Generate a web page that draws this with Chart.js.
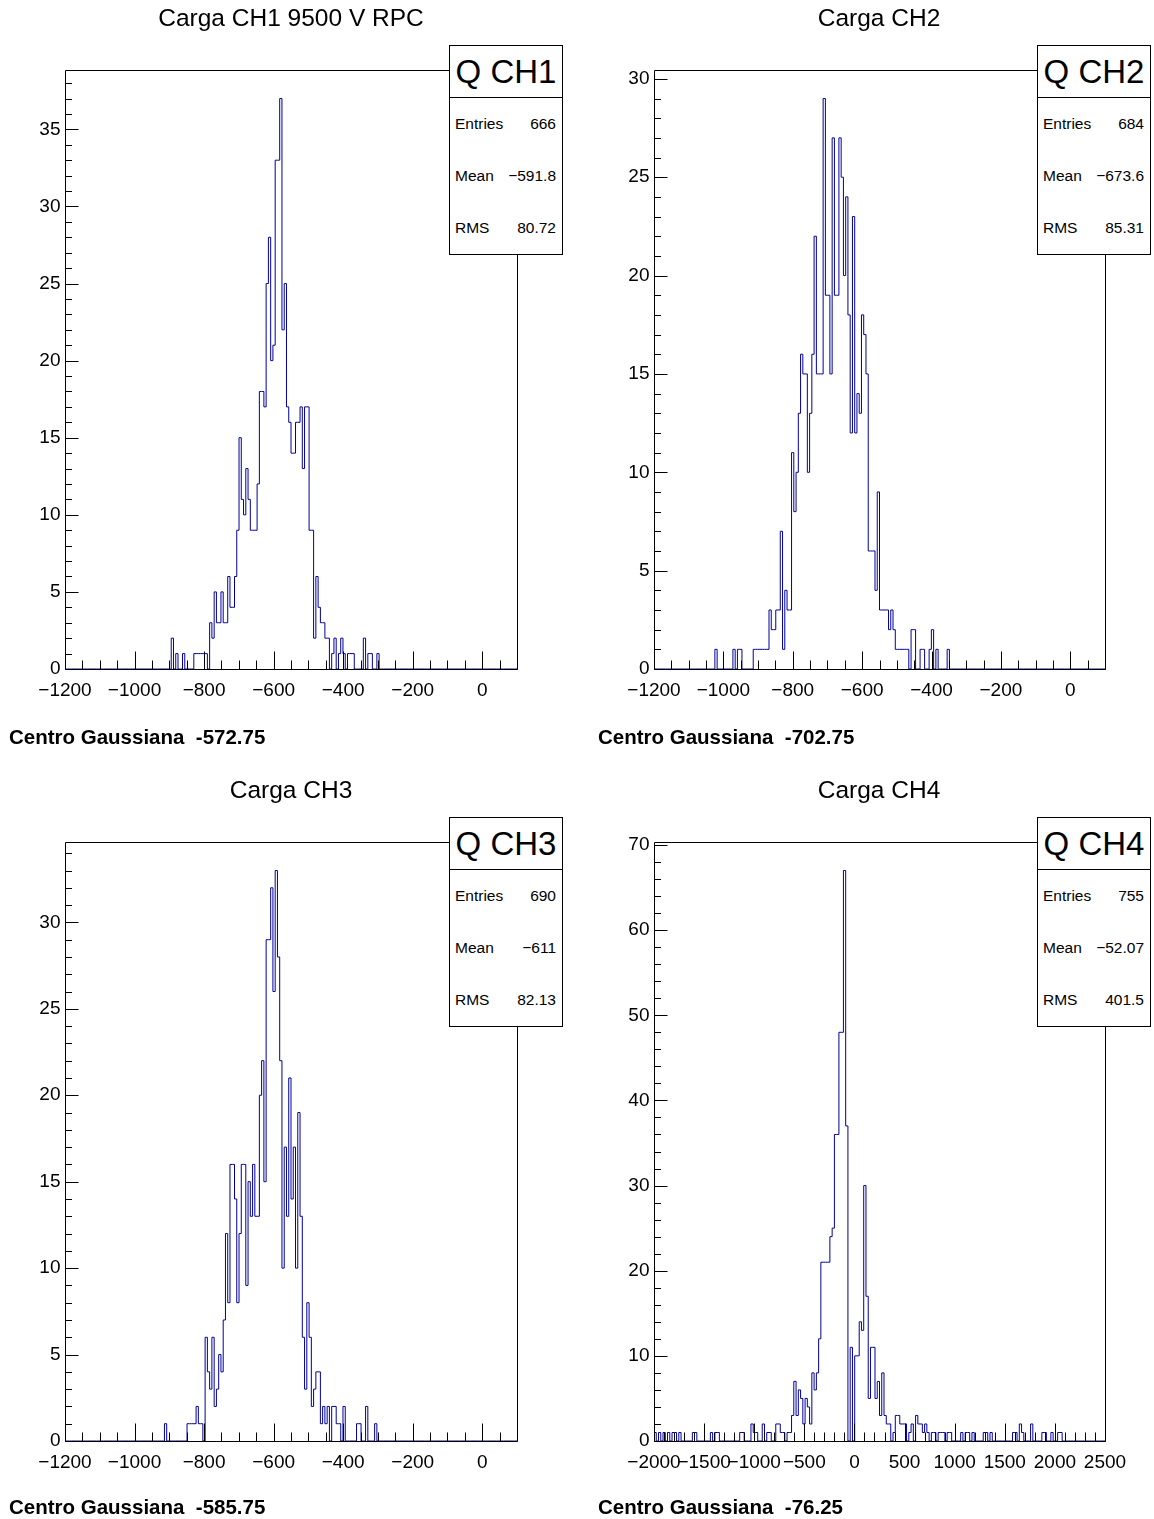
<!DOCTYPE html>
<html>
<head>
<meta charset="utf-8">
<script src="https://cdn.jsdelivr.net/npm/chart.js@4.4.1/dist/chart.umd.min.js"></script>
<style>
  html, body { margin: 0; padding: 0; background: #fff; }
  body { width: 1154px; height: 1519px; position: relative; overflow: hidden; font-family: "Liberation Sans", Arial, sans-serif; color: #000; }
  canvas.cv { position: absolute; }
  .title { position: absolute; font-size: 24.5px; line-height: 30px; white-space: nowrap; transform: translateX(-50%); }
  .stat { position: absolute; width: 114px; height: 210px; border: 1px solid #000; background: #fff; box-sizing: border-box; }
  .stat .hd { height: 51px; border-bottom: 1px solid #000; font-size: 33px; line-height: 51px; text-align: center; white-space: nowrap; }
  .stat .row { height: 52px; display: flex; justify-content: space-between; align-items: center; padding: 0 6px 0 5px; font-size: 15.5px; white-space: nowrap; }
  .centro { position: absolute; font-weight: bold; font-size: 20.5px; line-height: 24px; white-space: pre; }
</style>
</head>
<body>
<script>
// ---------------- DATA ----------------
const NBINS = 200;
const rangeA = [-1200, 100];   // CH1..CH3 axis range
const rangeB = [-2000, 2500];  // CH4 axis range

const ch1Values = [
  0,0,0,0,0,0,0,0,0,0,0,0,0,0,0,0,0,0,0,0,
  0,0,0,0,0,0,0,0,0,0,0,0,0,0,0,0,0,0,0,0,
  0,0,0,0,0,0,0,0,2,0,1,0,0,1,0,0,0,0,1,1,
  1,1,1,1,0,3,2,5,3,3,5,3,3,6,4,4,6,9,15,11,
  10,13,11,9,9,9,12,18,18,17,25,28,20,21,33,33,37,22,25,17,
  16,14,14,16,16,17,13,17,17,9,9,2,6,4,3,3,2,2,0,1,
  2,0,1,2,1,0,1,1,1,0,0,0,0,2,0,1,1,0,0,1,
  0,0,0,0,0,0,0,0,0,0,0,0,0,0,0,0,0,0,0,0,
  0,0,0,0,0,0,0,0,0,0,0,0,0,0,0,0,0,0,0,0,
  0,0,0,0,0,0,0,0,0,0,0,0,0,0,0,0,0,0,0,0
];
const ch2Values = [
  0,0,0,0,0,0,0,0,0,0,0,0,0,0,0,0,0,0,0,0,
  0,0,0,0,0,0,0,0,1,0,0,0,0,0,0,0,1,0,1,1,
  0,0,0,0,0,1,1,1,1,1,1,1,3,2,2,3,3,7,1,4,
  3,3,11,8,10,13,16,15,15,10,13,16,22,15,15,15,29,19,19,15,
  27,19,19,27,25,20,24,18,12,23,12,14,13,18,17,15,6,6,6,4,
  9,3,3,3,3,2,3,2,1,1,1,1,1,1,0,2,2,0,0,1,
  1,0,0,1,2,0,1,0,0,0,0,1,0,0,0,0,0,0,0,0,
  0,0,0,0,0,0,0,0,0,0,0,0,0,0,0,0,0,0,0,0,
  0,0,0,0,0,0,0,0,0,0,0,0,0,0,0,0,0,0,0,0,
  0,0,0,0,0,0,0,0,0,0,0,0,0,0,0,0,0,0,0,0
];
const ch3Values = [
  0,0,0,0,0,0,0,0,0,0,0,0,0,0,0,0,0,0,0,0,
  0,0,0,0,0,0,0,0,0,0,0,0,0,0,0,0,0,0,0,0,
  0,0,0,0,0,1,0,0,0,0,0,0,0,0,0,1,1,1,1,2,
  1,1,0,6,4,3,6,2,3,5,4,7,12,8,16,16,14,8,12,16,
  16,9,15,13,16,13,13,20,22,15,29,29,32,26,33,28,22,10,17,13,
  21,14,17,10,19,13,6,3,8,6,2,3,4,4,1,2,1,2,0,2,
  2,1,1,0,2,0,0,0,0,0,1,1,0,0,2,0,0,0,1,0,
  0,0,0,0,0,0,0,0,0,0,0,0,0,0,0,0,0,0,0,0,
  0,0,0,0,0,0,0,0,0,0,0,0,0,0,0,0,0,0,0,0,
  0,0,0,0,0,0,0,0,0,0,0,0,0,0,0,0,0,0,0,0
];
const ch4Values = [
  0,1,0,1,0,1,0,1,0,1,1,0,1,0,0,0,0,0,1,1,
  0,0,0,0,0,0,1,0,1,1,0,0,0,0,0,0,0,0,0,1,
  1,0,0,0,2,1,1,0,0,2,0,1,1,0,0,2,2,1,1,0,
  1,1,3,7,3,6,5,2,5,4,2,8,6,8,12,21,21,21,21,24,
  25,36,36,48,48,67,37,0,11,0,10,10,14,13,30,17,5,11,11,5,
  7,3,8,3,2,2,0,1,3,3,2,2,2,0,1,2,0,3,2,2,
  1,2,1,0,1,1,0,1,1,1,0,1,1,0,0,0,0,1,0,1,
  1,0,1,0,0,0,0,1,1,0,1,0,0,0,0,0,0,0,0,0,
  1,1,0,2,1,0,0,0,2,0,0,0,0,1,1,0,0,1,0,0,
  1,1,0,0,0,0,0,0,0,0,0,0,0,0,0,0,0,0,0,0
];

const xTicksA = [-1200, -1000, -800, -600, -400, -200, 0];
const xLabelsA = ['\u22121200', '\u22121000', '\u2212800', '\u2212600', '\u2212400', '\u2212200', '0'];
const xTicksB = [-2000, -1500, -1000, -500, 0, 500, 1000, 1500, 2000, 2500];
const xLabelsB = ['\u22122000', '\u22121500', '\u22121000', '\u2212500', '0', '500', '1000', '1500', '2000', '2500'];
const yTicks1 = [0, 5, 10, 15, 20, 25, 30, 35];
const yTicks2 = [0, 5, 10, 15, 20, 25, 30];
const yTicks3 = [0, 5, 10, 15, 20, 25, 30];
const yTicks4 = [0, 10, 20, 30, 40, 50, 60, 70];

const titles = ['Carga CH1 9500 V RPC', 'Carga CH2', 'Carga CH3', 'Carga CH4'];
const statNames = ['Q CH1', 'Q CH2', 'Q CH3', 'Q CH4'];
const statEntries = ['666', '684', '690', '755'];
const statMeans = ['\u2212591.8', '\u2212673.6', '\u2212611', '\u221252.07'];
const statRms = ['80.72', '85.31', '82.13', '401.5'];
const centroValues = ['-572.75', '-702.75', '-585.75', '-76.25'];

// ---------------- LAYOUT ----------------
const panels = [
  { values: ch1Values, range: rangeA, xT: xTicksA, xL: xLabelsA, xMinor: 50, yT: yTicks1, yMinor: 1, left: 0,   top: 0,   padR: 60 },
  { values: ch2Values, range: rangeA, xT: xTicksA, xL: xLabelsA, xMinor: 50, yT: yTicks2, yMinor: 1, left: 589, top: 0,   padR: 61 },
  { values: ch3Values, range: rangeA, xT: xTicksA, xL: xLabelsA, xMinor: 50, yT: yTicks3, yMinor: 1, left: 0,   top: 772, padR: 60 },
  { values: ch4Values, range: rangeB, xT: xTicksB, xL: xLabelsB, xMinor: 100, yT: yTicks4, yMinor: 2, left: 589, top: 772, padR: 61 }
];
const CW = 577, CH = 760;
const titlePos = [[291, 3], [879, 3], [291, 775], [879, 775]];
const statPos = [[449, 45], [1037, 45], [449, 817], [1037, 817]];
const centroPos = [[9, 725], [598, 725], [9, 1495], [598, 1495]];

const rootFrame = {
  id: 'rootFrame',
  afterDatasetsDraw(chart, args, o) {
    const { ctx, chartArea: a } = chart;
    const xs = chart.scales.x, ys = chart.scales.y;
    const L = Math.round(a.left) + 0.5, R = Math.round(a.right) + 0.5;
    const T = Math.round(a.top) + 0.5, B = Math.round(a.bottom) + 0.5;
    ctx.save();
    ctx.strokeStyle = '#000';
    ctx.lineWidth = 1;
    ctx.beginPath();
    ctx.rect(L, T, R - L, B - T);
    for (let v = o.xmin; v <= o.xmax + 1e-9; v += o.xMinor) {
      const px = Math.round(xs.getPixelForValue(v)) + 0.5;
      const major = o.xT.some(t => Math.abs(t - v) < 1e-6);
      ctx.moveTo(px, B);
      ctx.lineTo(px, B - (major ? 18 : 9));
    }
    for (let v = 0; v <= o.ymax + 1e-9; v += o.yMinor) {
      const py = Math.round(ys.getPixelForValue(v)) + 0.5;
      const major = o.yT.some(t => Math.abs(t - v) < 1e-6);
      ctx.moveTo(L, py);
      ctx.lineTo(L + (major ? 13 : 6.5), py);
    }
    ctx.stroke();
    ctx.fillStyle = '#000';
    ctx.font = '19px "Liberation Sans", Arial, sans-serif';
    ctx.textAlign = 'center';
    ctx.textBaseline = 'alphabetic';
    o.xT.forEach((v, i) => ctx.fillText(o.xL[i], xs.getPixelForValue(v), B + 26));
    ctx.textAlign = 'right';
    ctx.textBaseline = 'middle';
    o.yT.forEach(v => ctx.fillText(String(v), L - 5, ys.getPixelForValue(v)));
    ctx.restore();
  }
};

panels.forEach((p, idx) => {
  const cv = document.createElement('canvas');
  cv.className = 'cv';
  cv.width = CW; cv.height = CH;
  cv.style.left = p.left + 'px';
  cv.style.top = p.top + 'px';
  cv.style.width = CW + 'px';
  cv.style.height = CH + 'px';
  document.body.appendChild(cv);

  const [xmin, xmax] = p.range;
  const bw = (xmax - xmin) / NBINS;
  const pts = p.values.map((v, k) => ({ x: xmin + k * bw, y: v }));
  pts.push({ x: xmax, y: p.values[NBINS - 1] });
  const ymax = Math.max(...p.values) * 1.05;

  new Chart(cv, {
    type: 'line',
    data: { datasets: [{
      data: pts,
      stepped: 'after',
      borderColor: '#000099',
      borderWidth: 1,
      pointRadius: 0,
      fill: false,
      tension: 0
    }]},
    options: {
      responsive: false,
      animation: false,
      devicePixelRatio: 1,
      layout: { padding: { left: 65, top: 70, right: p.padR, bottom: CH - 669 } },
      scales: {
        x: { type: 'linear', min: xmin, max: xmax, display: false },
        y: { type: 'linear', min: 0, max: ymax, display: false }
      },
      plugins: {
        legend: { display: false },
        tooltip: { enabled: false },
        rootFrame: { xmin, xmax, xMinor: p.xMinor, xT: p.xT, xL: p.xL, ymax, yMinor: p.yMinor, yT: p.yT }
      }
    },
    plugins: [rootFrame]
  });

  const t = document.createElement('div');
  t.className = 'title';
  t.style.left = titlePos[idx][0] + 'px';
  t.style.top = titlePos[idx][1] + 'px';
  t.textContent = titles[idx];
  document.body.appendChild(t);

  const s = document.createElement('div');
  s.className = 'stat';
  s.style.left = statPos[idx][0] + 'px';
  s.style.top = statPos[idx][1] + 'px';
  s.innerHTML = '<div class="hd">' + statNames[idx] + '</div>' +
    '<div class="row"><span>Entries</span><span>' + statEntries[idx] + '</span></div>' +
    '<div class="row"><span>Mean</span><span>' + statMeans[idx] + '</span></div>' +
    '<div class="row"><span>RMS</span><span>' + statRms[idx] + '</span></div>';
  document.body.appendChild(s);

  const c = document.createElement('div');
  c.className = 'centro';
  c.style.left = centroPos[idx][0] + 'px';
  c.style.top = centroPos[idx][1] + 'px';
  c.textContent = 'Centro Gaussiana  ' + centroValues[idx];
  document.body.appendChild(c);
});
</script>
</body>
</html>
